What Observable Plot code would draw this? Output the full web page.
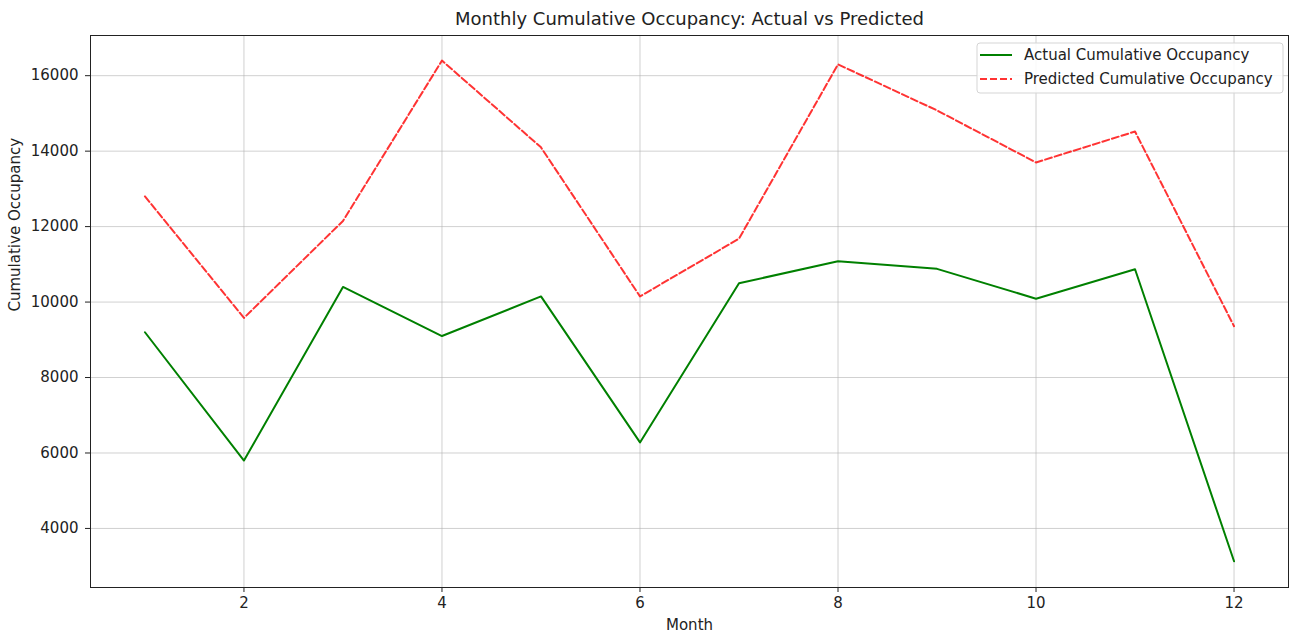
<!DOCTYPE html>
<html>
<head>
<meta charset="utf-8">
<script src="https://cdn.jsdelivr.net/npm/d3@7"></script>
<script src="https://cdn.jsdelivr.net/npm/@observablehq/plot@0.6"></script>
<style>
  html, body { margin: 0; padding: 0; background: #fff; }
  #chart { width: 1290px; height: 635px; }
</style>
</head>
<body>
<div id="chart"></div>
<script>
const months = [1, 2, 3, 4, 5, 6, 7, 8, 9, 10, 11, 12];
const actual = [9200, 5800, 10400, 9100, 10150, 6280, 10500, 11080, 10880, 10090, 10870, 3130];
const predicted = [12800, 9580, 12150, 16400, 14100, 10150, 11680, 16300, 15080, 13700, 14520, 9360];
const xTicks = [2, 4, 6, 8, 10, 12];
const yTicks = [4000, 6000, 8000, 10000, 12000, 14000, 16000];
const seriesNames = ["Actual Cumulative Occupancy", "Predicted Cumulative Occupancy"];
const titleText = "Monthly Cumulative Occupancy: Actual vs Predicted";
const xLabel = "Month";
const yLabel = "Cumulative Occupancy";

const actualRows = months.map((m, i) => ({month: m, value: actual[i]}));
const predRows = months.map((m, i) => ({month: m, value: predicted[i]}));

const font = "DejaVu Sans, sans-serif";
const gridColor = "#b0b0b0";
const baseSize = 15;

const chart = Plot.plot({
  width: 1290,
  height: 635,
  marginLeft: 90,
  marginRight: 2,
  marginTop: 35,
  marginBottom: 48,
  style: {fontFamily: font, fontSize: baseSize + "px", color: "#222", background: "#fff"},
  x: {domain: [0.45, 12.55]},
  y: {domain: [2435, 17065]},
  marks: [
    Plot.gridX(xTicks, {stroke: gridColor, strokeOpacity: 0.6, strokeWidth: 1}),
    Plot.gridY(yTicks, {stroke: gridColor, strokeOpacity: 0.6, strokeWidth: 1}),
    Plot.axisX({ticks: xTicks, tickSize: 5, tickPadding: 5, tickFormat: d => String(d), label: null, fontSize: baseSize, stroke: "#222"}),
    Plot.axisY({ticks: yTicks, tickSize: 5, tickPadding: 7, tickFormat: d => String(d), label: null, fontSize: baseSize, stroke: "#222"}),
    Plot.line(actualRows, {x: "month", y: "value", stroke: "green", strokeWidth: 2}),
    Plot.line(predRows, {x: "month", y: "value", stroke: "red", strokeOpacity: 0.8, strokeWidth: 2, strokeDasharray: "7,3"}),
    Plot.frame({stroke: "#222", strokeWidth: 1}),
    Plot.text([titleText], {frameAnchor: "top", text: d => d, dy: -16, lineAnchor: "middle", fontSize: 18, fill: "#222"}),
    Plot.text([xLabel], {frameAnchor: "bottom", text: d => d, dy: 38, lineAnchor: "middle", fontSize: baseSize, fill: "#222"}),
    Plot.text([yLabel], {frameAnchor: "left", text: d => d, dx: -75, rotate: -90, lineAnchor: "middle", fontSize: baseSize, fill: "#222"})
  ]
});

document.getElementById("chart").appendChild(chart);

// Legend (upper right, matplotlib style)
const svg = d3.select(chart);
const lg = svg.append("g").attr("font-family", font).attr("font-size", baseSize).attr("text-anchor", "start");
const lx = 977, ly = 43, lw = 306, lh = 50;
lg.append("rect").attr("x", lx).attr("y", ly).attr("width", lw).attr("height", lh)
  .attr("rx", 3).attr("fill", "white").attr("fill-opacity", 0.85)
  .attr("stroke", "#d5d5d5");
const styles = [
  {stroke: "green", dash: null, opacity: 1},
  {stroke: "red", dash: "7,3", opacity: 0.8}
];
seriesNames.forEach((name, i) => {
  const yy = ly + 12 + i * 24;
  lg.append("line").attr("x1", lx + 3).attr("x2", lx + 35).attr("y1", yy).attr("y2", yy)
    .attr("stroke", styles[i].stroke).attr("stroke-width", 2)
    .attr("stroke-opacity", styles[i].opacity)
    .attr("stroke-dasharray", styles[i].dash);
  lg.append("text").attr("x", lx + 47).attr("y", yy).attr("dy", "0.35em")
    .attr("text-anchor", "start")
    .attr("fill", "#222").text(name);
});
</script>
</body>
</html>
